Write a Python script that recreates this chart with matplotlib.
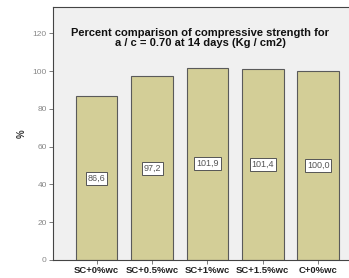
import matplotlib
matplotlib.use("Agg")
import matplotlib.pyplot as plt

# data
categories = ["SC+0%wc", "SC+0.5%wc", "SC+1%wc", "SC+1.5%wc", "C+0%wc"]
percent = [86.6, 97.2, 101.9, 101.4, 100.0]
value_labels = ["86,6", "97,2", "101,9", "101,4", "100,0"]
y_ticks = [0, 20, 40, 60, 80, 100, 120]

plt.rcParams['font.family'] = ['Liberation Sans', 'DejaVu Sans']

fig = plt.figure(figsize=(3.49, 2.78), dpi=100)
fig.patch.set_facecolor("white")
ax = fig.add_axes([53 / 349, 18 / 278, 1 - 53 / 349 + 0.01, 253 / 278])
ax.set_facecolor("#F0F0F0")

x = list(range(len(categories)))
ax.bar(x, percent, width=0.75, color="#D3CE97", edgecolor="#5A5A5A", linewidth=0.8, zorder=2)

# value boxes sit at half the bar height
for xi, val, lab in zip(x, percent, value_labels):
    ax.text(xi, val / 2, lab, ha="center", va="center", fontsize=6.5, color="#555555", zorder=3,
            bbox=dict(boxstyle="square,pad=0.2", facecolor="white", edgecolor="#555555", linewidth=0.7))

ax.set_xlim(-0.79, 4.62)
ax.set_ylim(0, 134)
ax.set_yticks(y_ticks)
ax.set_yticklabels([str(t) for t in y_ticks], fontsize=6, color="#888888")
ax.set_xticks(x)
ax.set_xticklabels(categories, fontsize=6.8, fontweight="bold", color="#222222")
ax.tick_params(axis="both", length=3, width=0.6, color="#666666", pad=1.5)
ax.set_ylabel("%", fontsize=7, fontweight="bold", color="#333333", labelpad=4)

for s in ax.spines.values():
    s.set_color("#444444")
    s.set_linewidth(0.8)

ax.text(1.87, 117.5, "Percent comparison of compressive strength for\na / c = 0.70 at 14 days (Kg / cm2)",
        ha="center", va="center", fontsize=8, fontweight="bold", color="#111111", linespacing=0.95, zorder=3)

fig.savefig("out.png", dpi=100)
